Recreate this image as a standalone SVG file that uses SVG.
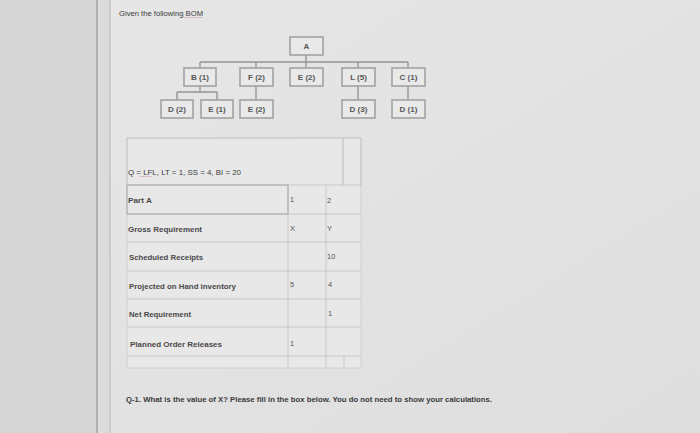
<svg xmlns="http://www.w3.org/2000/svg" width="700" height="433" viewBox="0 0 700 433">
<defs>
<linearGradient id="bg" x1="0" y1="0" x2="1" y2="1">
<stop offset="0" stop-color="#e7e7e7"/>
<stop offset="1" stop-color="#dedede"/>
</linearGradient>
<style>
.t{font-family:"Liberation Sans",Arial,sans-serif;fill:#3a3a3a}
.lbl{font-family:"Liberation Sans",Arial,sans-serif;font-size:7.4px;font-weight:bold;fill:#484848}
.val{font-family:"Liberation Sans",Arial,sans-serif;font-size:7.5px;fill:#555}
.box{fill:#e9e9e9;stroke:#a2a2a2;stroke-width:1.6}
.bt{font-family:"Liberation Sans",Arial,sans-serif;font-size:8px;font-weight:bold;fill:#555;text-anchor:middle}
.con{stroke:#959595;stroke-width:1.4;fill:none}
.cell{fill:none;stroke:#c8c8c8;stroke-width:1}
</style>
</defs>
<rect width="700" height="433" fill="url(#bg)"/>
<rect x="0" y="0" width="97" height="433" fill="#d7d7d7"/>
<rect x="97" y="0" width="13" height="433" fill="#dbdbdb"/>
<line x1="97" y1="0" x2="97" y2="433" stroke="#8a8a8a" stroke-width="1"/>
<line x1="110" y1="0" x2="110" y2="433" stroke="#b8b8b8" stroke-width="1"/>

<text class="t" x="119" y="16" font-size="7.4" textLength="84" lengthAdjust="spacingAndGlyphs">Given the following BOM</text>
<line x1="182" y1="17.5" x2="203" y2="17.5" stroke="#c98080" stroke-width="0.6" stroke-dasharray="1,0.6"/>

<g id="connectors">
<line class="con" x1="306" y1="55" x2="306" y2="67"/>
<line class="con" x1="200" y1="62" x2="408" y2="62"/>
<line class="con" x1="200" y1="62" x2="200" y2="68"/>
<line class="con" x1="256" y1="62" x2="256" y2="68"/>
<line class="con" x1="358" y1="62" x2="358" y2="68"/>
<line class="con" x1="408" y1="62" x2="408" y2="68"/>
<line class="con" x1="200" y1="86" x2="200" y2="92"/>
<line class="con" x1="177" y1="92" x2="217" y2="92"/>
<line class="con" x1="177" y1="92" x2="177" y2="100"/>
<line class="con" x1="217" y1="92" x2="217" y2="100"/>
<line class="con" x1="256" y1="86" x2="256" y2="100"/>
<line class="con" x1="358" y1="86" x2="358" y2="100"/>
<line class="con" x1="408" y1="86" x2="408" y2="100"/>
</g>

<g id="nA"><rect class="box" x="290" y="37" width="33" height="18"/><text class="bt" x="306.5" y="49">A</text></g>
<g id="nB"><rect class="box" x="184" y="68" width="32" height="18"/><text class="bt" x="200" y="80">B (1)</text></g>
<g id="nF"><rect class="box" x="240" y="68" width="33" height="18"/><text class="bt" x="256.5" y="80">F (2)</text></g>
<g id="nE2a"><rect class="box" x="290" y="68" width="33" height="18"/><text class="bt" x="306.5" y="80">E (2)</text></g>
<g id="nL"><rect class="box" x="342" y="68" width="33" height="18"/><text class="bt" x="358.5" y="80">L (5)</text></g>
<g id="nC"><rect class="box" x="392" y="68" width="33" height="18"/><text class="bt" x="408.5" y="80">C (1)</text></g>
<g id="nD2"><rect class="box" x="161" y="100" width="32" height="18"/><text class="bt" x="177" y="112">D (2)</text></g>
<g id="nE1"><rect class="box" x="201" y="100" width="32" height="18"/><text class="bt" x="217" y="112">E (1)</text></g>
<g id="nE2b"><rect class="box" x="240" y="100" width="33" height="18"/><text class="bt" x="256.5" y="112">E (2)</text></g>
<g id="nD3"><rect class="box" x="342" y="100" width="33" height="18"/><text class="bt" x="358.5" y="112">D (3)</text></g>
<g id="nD1"><rect class="box" x="392" y="100" width="33" height="18"/><text class="bt" x="408.5" y="112">D (1)</text></g>

<g id="table">
<rect x="127" y="138" width="234" height="230" fill="#e8e8e8" stroke="#d0d0d0" stroke-width="1"/>
<rect class="cell" x="127" y="138" width="216" height="47"/>
<rect class="cell" x="343" y="138" width="18" height="47"/>
<line class="cell" x1="127" y1="214" x2="361" y2="214"/>
<line class="cell" x1="127" y1="242" x2="361" y2="242"/>
<line class="cell" x1="127" y1="271" x2="361" y2="271"/>
<line class="cell" x1="127" y1="299" x2="361" y2="299"/>
<line class="cell" x1="127" y1="327" x2="361" y2="327"/>
<line class="cell" x1="127" y1="356" x2="361" y2="356"/>
<line class="cell" x1="288" y1="185" x2="288" y2="368"/>
<line class="cell" x1="326" y1="185" x2="326" y2="368"/>
<line class="cell" x1="344" y1="356" x2="344" y2="368"/>
<rect x="127" y="185" width="161" height="29" fill="none" stroke="#a8a8a8" stroke-width="1"/>

<text class="t" x="128" y="175" font-size="7" textLength="113" lengthAdjust="spacingAndGlyphs">Q = LFL, LT = 1, SS = 4, BI = 20</text>
<line x1="140" y1="176.5" x2="152" y2="176.5" stroke="#c98080" stroke-width="0.6" stroke-dasharray="1,0.6"/>

<text class="lbl" x="128" y="203" textLength="24" lengthAdjust="spacingAndGlyphs">Part A</text>
<text class="lbl" x="128" y="232" textLength="74" lengthAdjust="spacingAndGlyphs">Gross Requirement</text>
<text class="lbl" x="129" y="260" textLength="74" lengthAdjust="spacingAndGlyphs">Scheduled Receipts</text>
<text class="lbl" x="129" y="289" textLength="107" lengthAdjust="spacingAndGlyphs">Projected on Hand inventory</text>
<text class="lbl" x="129" y="317" textLength="62" lengthAdjust="spacingAndGlyphs">Net Requirement</text>
<text class="lbl" x="130" y="347" textLength="92" lengthAdjust="spacingAndGlyphs">Planned Order Releases</text>

<text class="val" x="290" y="202">1</text>
<text class="val" x="327" y="203">2</text>
<text class="val" x="290" y="231">X</text>
<text class="val" x="327" y="231">Y</text>
<text class="val" x="327" y="259">10</text>
<text class="val" x="290" y="287">5</text>
<text class="val" x="328" y="287">4</text>
<text class="val" x="328" y="316">1</text>
<text class="val" x="290" y="346">1</text>
</g>

<text class="t" x="126" y="402" font-size="7.4" font-weight="bold" fill="#444" textLength="366" lengthAdjust="spacingAndGlyphs">Q-1. What is the value of X?  Please fill in the box below. You do not need to show your calculations.</text>
</svg>
